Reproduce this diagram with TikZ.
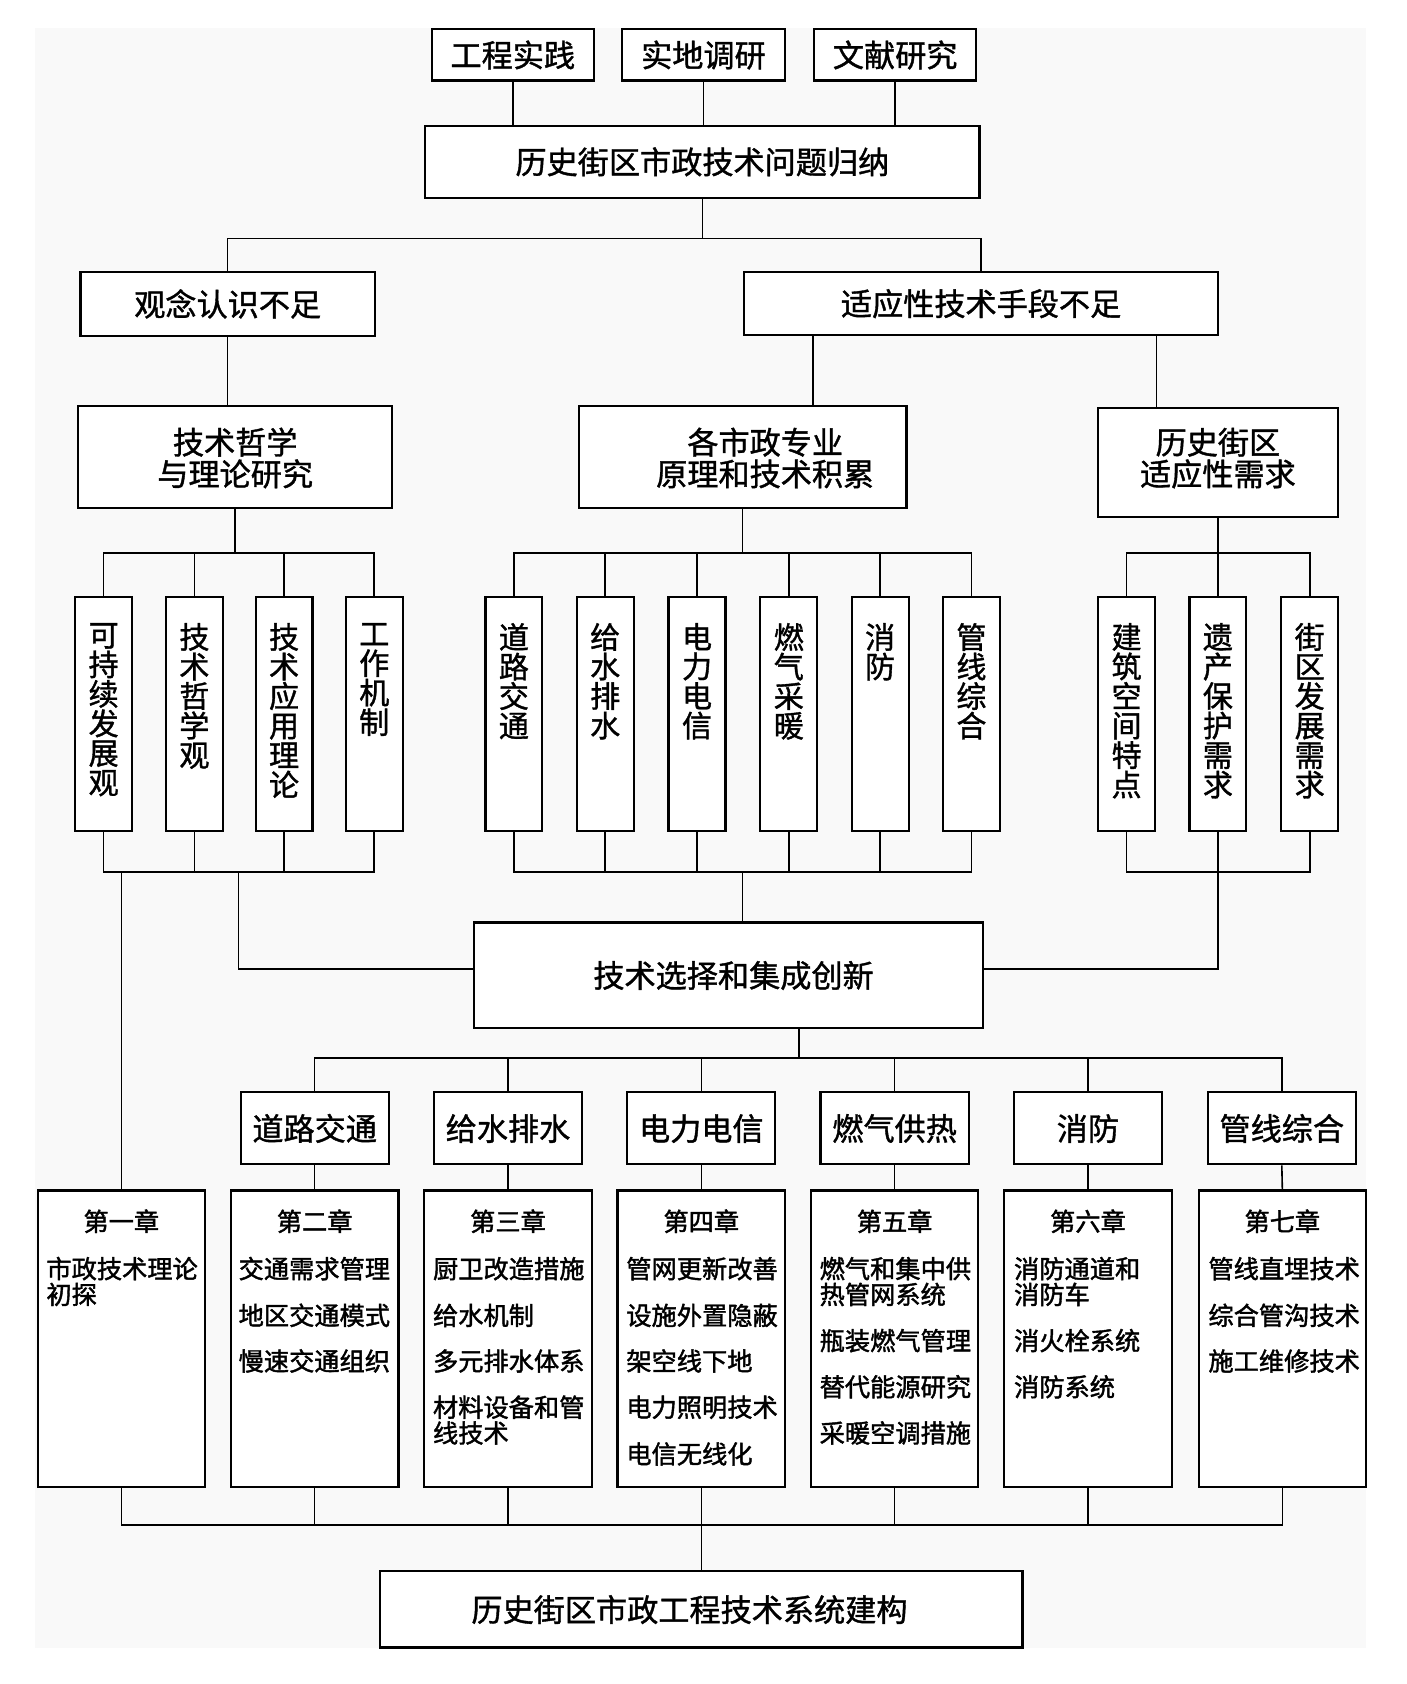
\documentclass[tikz,border=0pt]{standalone}
\usepackage{fontspec}
\setmainfont{Noto Sans CJK SC}
\newfontfamily\cjk[FakeBold=1.2]{Noto Sans CJK SC}
\newfontfamily\cjkb[FakeBold=1.6]{Noto Sans CJK SC}
\definecolor{bgc}{HTML}{F9F9F9}
\begin{document}
\begin{tikzpicture}[x=1pt,y=-1pt,
  box/.style={draw=black,line width=2pt,fill=white,inner sep=0pt},
  con/.style={draw=black,line width=1.5pt},
  big/.style={font=\cjk\fontsize{29}{30}\selectfont,text height=22.6pt,text depth=0pt},
  vt/.style={font=\cjk\fontsize{28}{27.5}\selectfont,align=center,inner sep=0pt,anchor=north},
  ct/.style={font=\cjkb\fontsize{23.5}{24}\selectfont,text height=18.4pt,text depth=0pt,inner sep=0pt},
  ci/.style={ct,anchor=west}]
\useasboundingbox (0,0) rectangle (1310,1568);
\fill[bgc] (33,26) rectangle (1272,1534);

% top row
\node[box,minimum width=151pt,minimum height=48pt,label={[big]center:工程实践}] (t1) at (477.5,51) {};
\node[box,minimum width=152pt,minimum height=48pt,label={[big]center:实地调研}] (t2) at (655,51) {};
\node[box,minimum width=151pt,minimum height=48pt,label={[big]center:文献研究}] (t3) at (833.5,51) {};
\node[box,minimum width=516pt,minimum height=67pt,label={[big]center:历史街区市政技术问题归纳}] (sum) at (654,150.5) {};
\draw[con] (t1.south) -- (t1.south |- sum.north);
\draw[con] (t2.south) -- (t2.south |- sum.north);
\draw[con] (t3.south) -- (t3.south |- sum.north);

% level 2
\node[box,minimum width=274pt,minimum height=60pt,label={[big]center:观念认识不足}] (g1) at (212,283) {};
\node[box,minimum width=441pt,minimum height=59pt,label={[big]center:适应性技术手段不足}] (g2) at (913.5,282.5) {};
\coordinate (b1) at (654,222);
\draw[con] (sum.south) -- (b1);
\draw[con] (g1.north) |- (b1) -| (g2.north);

% level 3
\node[box,minimum width=292pt,minimum height=95pt,
  label={[big,yshift=14pt]center:技术哲学},
  label={[big,yshift=-15.5pt]center:与理论研究}] (h1) at (219,425.5) {};
\node[box,minimum width=305pt,minimum height=95pt,
  label={[big,xshift=21pt,yshift=14pt]center:各市政专业},
  label={[big,xshift=21pt,yshift=-15.5pt]center:原理和技术积累}] (h2) at (691.5,425.5) {};
\node[box,minimum width=224pt,minimum height=101pt,
  label={[big,yshift=19pt]center:历史街区},
  label={[big,yshift=-10.5pt]center:适应性需求}] (h3) at (1134,430.5) {};
\coordinate (k1) at (757,0);
\coordinate (k2) at (1077,0);
\draw[con] (g1.south) -- (g1.south |- h1.north);
\draw[con] (g2.south -| k1) -- (h2.north -| k1);
\draw[con] (g2.south -| k2) -- (h3.north -| k2);

% vertical boxes
\foreach \n/\x/\t in {
  v1/96.5/{可\\持\\续\\发\\展\\观},
  v2/181/{技\\术\\哲\\学\\观},
  v3/264.5/{技\\术\\应\\用\\理\\论},
  v4/348.5/{工\\作\\机\\制},
  v5/478.5/{道\\路\\交\\通},
  v6/563.5/{给\\水\\排\\水},
  v7/649/{电\\力\\电\\信},
  v8/734.5/{燃\\气\\采\\暖},
  v9/819.5/{消\\防},
  v10/904.5/{管\\线\\综\\合},
  v11/1049/{建\\筑\\空\\间\\特\\点},
  v12/1134/{遗\\产\\保\\护\\需\\求},
  v13/1219.5/{街\\区\\发\\展\\需\\求}}{
  \node[box,minimum width=53pt,minimum height=218pt] (\n) at (\x,665) {};
  \node[vt] (\n t) at (\x,580) {\t};
}
% group bars
\coordinate (ta) at (0,515);
\coordinate (tb) at (0,812);
\draw[con] (h1.south) -- (h1.south |- ta);
\draw[con] (v1.north) |- (v4.north |- ta) -- (v4.north);
\draw[con] (v2.north) -- (v2.north |- ta);
\draw[con] (v3.north) -- (v3.north |- ta);
\draw[con] (v1.south) |- (v4.south |- tb) -- (v4.south);
\draw[con] (v2.south) -- (v2.south |- tb);
\draw[con] (v3.south) -- (v3.south |- tb);

\draw[con] (h2.south) -- (h2.south |- ta);
\draw[con] (v5.north) |- (v10.north |- ta) -- (v10.north);
\foreach \n in {v6,v7,v8,v9}{\draw[con] (\n.north) -- (\n.north |- ta);}
\draw[con] (v5.south) |- (v10.south |- tb) -- (v10.south);
\foreach \n in {v6,v7,v8,v9}{\draw[con] (\n.south) -- (\n.south |- tb);}

\draw[con] (h3.south) -- (h3.south |- ta);
\draw[con] (v11.north) |- (v13.north |- ta) -- (v13.north);
\draw[con] (v12.north) -- (v12.north |- ta);
\draw[con] (v11.south) |- (v13.south |- tb) -- (v13.south);
\draw[con] (v12.south) -- (v12.south |- tb);

% integration box
\node[box,minimum width=474pt,minimum height=98pt,
  label={[big,xshift=5pt]center:技术选择和集成创新}] (tech) at (678,908) {};
\coordinate (tj) at (0,902);
\coordinate (la) at (222,0);
\coordinate (lb) at (113,0);
\coordinate (mc) at (744,0);
\draw[con] (la |- tb) |- (tech.west |- tj);
\draw[con] (h2.south |- tb) -- (h2.south |- tech.north);
\draw[con] (v12.south |- tb) |- (tech.east |- tj);

% categories
\coordinate (cb) at (0,985);
\foreach \n/\x/\t in {k1/293/道路交通,k2/473/给水排水,k3/653/电力电信,k4/833/燃气供热,k5/1013/消防,k6/1193.5/管线综合}{
  \node[box,minimum width=138pt,minimum height=67pt,label={[big]center:\t}] (\n c) at (\x,1050.5) {};
}
\draw[con] (tech.south -| mc) -- (mc |- cb);
\draw[con] (k1c.north) |- (k6c.north |- cb) -- (k6c.north);
\foreach \n in {k2c,k3c,k4c,k5c}{\draw[con] (\n.north) -- (\n.north |- cb);}

% chapters
\foreach \n/\x in {c1/113,c2/293,c3/473,c4/653,c5/833,c6/1013,c7/1194}{
  \node[box,minimum width=156pt,minimum height=276pt] (\n) at (\x,1246.5) {};
}
\draw[con] (lb |- tb) -- (c1.north);
\foreach \a/\b in {k1c/c2,k2c/c3,k3c/c4,k4c/c5,k5c/c6,k6c/c7}{\draw[con] (\a.south) -- (\b.north);}

\node[ct] (c1t) at (113,1137) {第一章};
\node[ct] (c2t) at (293,1137) {第二章};
\node[ct] (c3t) at (473,1137) {第三章};
\node[ct] (c4t) at (653,1137) {第四章};
\node[ct] (c5t) at (833,1137) {第五章};
\node[ct] (c6t) at (1013,1137) {第六章};
\node[ct] (c7t) at (1194,1137) {第七章};

\node[ci] (c1a) at (43,1181) {市政技术理论};
\node[ci] (c1b) at (43,1205) {初探};

\node[ci] (c2a) at (222,1181) {交通需求管理};
\node[ci] (c2b) at (222,1224.5) {地区交通模式};
\node[ci] (c2c) at (222,1267) {慢速交通组织};

\node[ci] (c3a) at (403,1181) {厨卫改造措施};
\node[ci] (c3b) at (403,1224.5) {给水机制};
\node[ci] (c3c) at (403,1267) {多元排水体系};
\node[ci] (c3d) at (403,1310) {材料设备和管};
\node[ci] (c3e) at (403,1334) {线技术};

\node[ci] (c4a) at (583,1181) {管网更新改善};
\node[ci] (c4b) at (583,1224.5) {设施外置隐蔽};
\node[ci] (c4c) at (583,1267) {架空线下地};
\node[ci] (c4d) at (583,1310) {电力照明技术};
\node[ci] (c4e) at (583,1353.5) {电信无线化};

\node[ci] (c5a) at (763,1181) {燃气和集中供};
\node[ci] (c5b) at (763,1205) {热管网系统};
\node[ci] (c5c) at (763,1248) {瓶装燃气管理};
\node[ci] (c5d) at (763,1291) {替代能源研究};
\node[ci] (c5e) at (763,1334) {采暖空调措施};

\node[ci] (c6a) at (944,1181) {消防通道和};
\node[ci] (c6b) at (944,1205) {消防车};
\node[ci] (c6c) at (944,1248) {消火栓系统};
\node[ci] (c6d) at (944,1291) {消防系统};

\node[ci] (c7a) at (1125,1181) {管线直埋技术};
\node[ci] (c7b) at (1125,1224.5) {综合管沟技术};
\node[ci] (c7c) at (1125,1267) {施工维修技术};

% final
\coordinate (fb) at (0,1420);
\node[box,minimum width=598pt,minimum height=71pt,
  label={[big,xshift=-11pt]center:历史街区市政工程技术系统建构}] (fin) at (653,1498.5) {};
\draw[con] (c1.south) |- (c7.south |- fb) -- (c7.south);
\foreach \n in {c2,c3,c5,c6}{\draw[con] (\n.south) -- (\n.south |- fb);}
\draw[con] (c4.south) -- (fin.north);
\end{tikzpicture}
\end{document}
